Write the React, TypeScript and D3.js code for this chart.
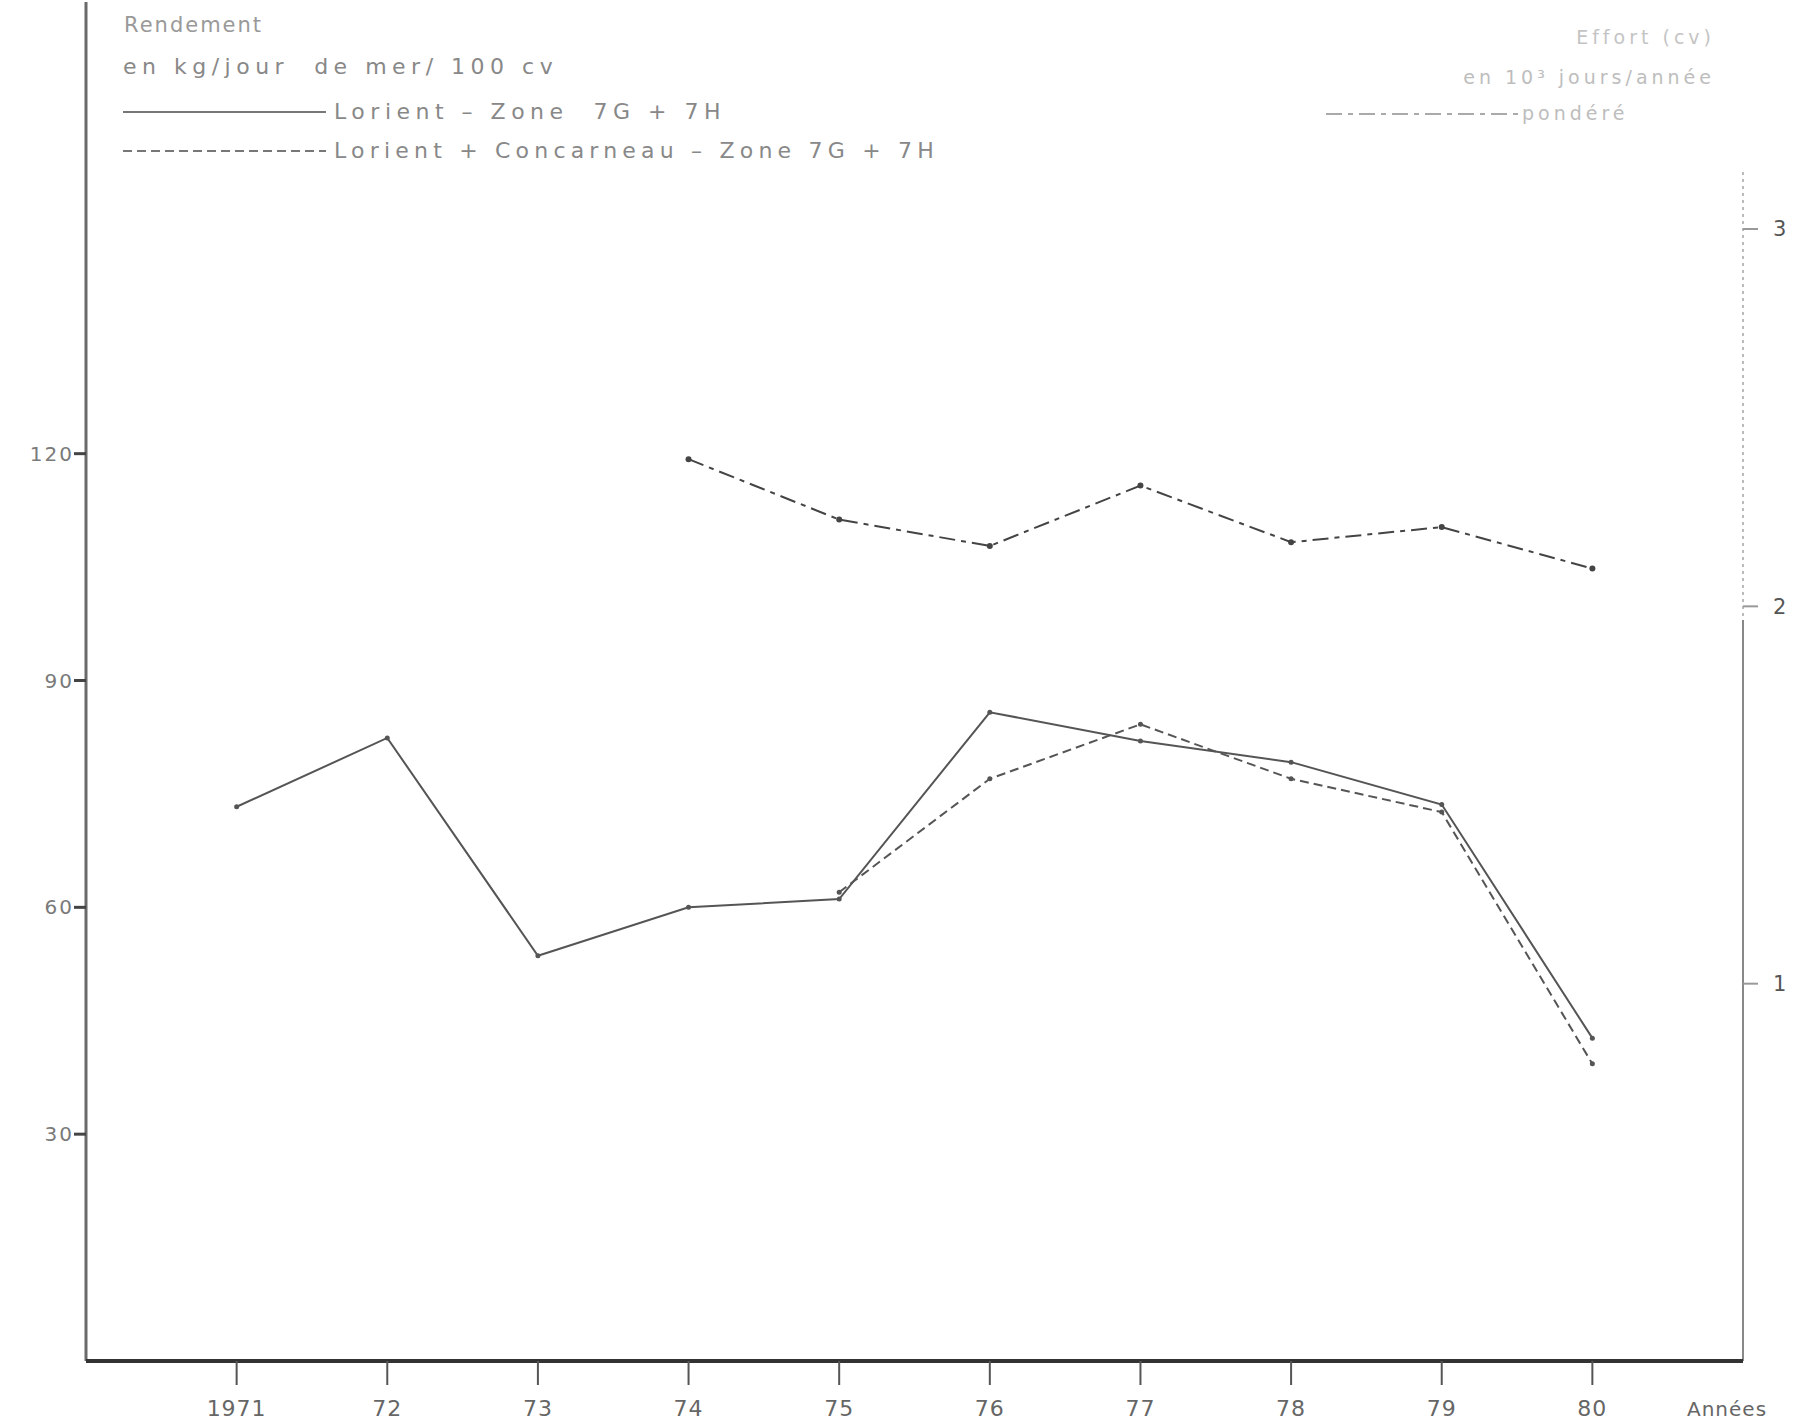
import React from "react";
import * as d3 from "d3";

const years = [1971, 1972, 1973, 1974, 1975, 1976, 1977, 1978, 1979, 1980];
const yearLabels = ["1971", "72", "73", "74", "75", "76", "77", "78", "79", "80"];
const lorientYears = [1971, 1972, 1973, 1974, 1975, 1976, 1977, 1978, 1979, 1980];
const lorientValues = [73.3, 82.4, 53.6, 60.0, 61.1, 85.8, 82.0, 79.2, 73.6, 42.7];
const lcYears = [1975, 1976, 1977, 1978, 1979, 1980];
const lcValues = [62.0, 77.0, 84.2, 77.0, 72.6, 39.3];
const effortYears = [1974, 1975, 1976, 1977, 1978, 1979, 1980];
const effortValues = [2.39, 2.23, 2.16, 2.32, 2.17, 2.21, 2.1];
const leftTicks = [30, 60, 90, 120];
const rightTicks = [1, 2, 3];

const W = 1793;
const H = 1426;

export default function App() {
  const x = d3.scaleLinear().domain([1970, 1981]).range([86, 1743]);
  const yL = d3.scaleLinear().domain([0, 180]).range([1361, 0]);
  const yR = d3.scaleLinear().domain([0, 3]).range([1361, 229]);

  const lineL = d3
    .line<[number, number]>()
    .x((d) => x(d[0]))
    .y((d) => yL(d[1]));
  const lineR = d3
    .line<[number, number]>()
    .x((d) => x(d[0]))
    .y((d) => yR(d[1]));

  const lorient = lorientYears.map((yr, i) => [yr, lorientValues[i]] as [number, number]);
  const lc = lcYears.map((yr, i) => [yr, lcValues[i]] as [number, number]);
  const effort = effortYears.map((yr, i) => [yr, effortValues[i]] as [number, number]);

  const font = "'DejaVu Sans', 'Liberation Sans', sans-serif";
  const x0 = x(1970);
  const x1 = x(1981);
  const y0 = yL(0);

  return (
    <div style={{ position: "absolute", left: 0, top: 0, width: W, height: H, background: "#fff", overflow: "hidden" }}>
      <svg width={W} height={H} style={{ display: "block" }} fontFamily={font}>
        <rect x={0} y={0} width={W} height={H} fill="#fff" />

        {/* left axis */}
        <line x1={x0} y1={2} x2={x0} y2={y0} stroke="#6a6a6a" strokeWidth={3} />
        {leftTicks.map((t) => (
          <g key={"l" + t}>
            <line x1={x0 - 12} y1={yL(t)} x2={x0} y2={yL(t)} stroke="#444" strokeWidth={3} />
            <text
              x={x0 - 12}
              y={yL(t)}
              dy="0.35em"
              textAnchor="end"
              fontSize={20}
              letterSpacing={2}
              fill="#7a7a7a"
            >
              {t}
            </text>
          </g>
        ))}

        {/* right axis */}
        <line x1={x1} y1={172} x2={x1} y2={620} stroke="#bbb" strokeWidth={2} strokeDasharray="3,4" />
        <line x1={x1} y1={620} x2={x1} y2={y0} stroke="#888" strokeWidth={2} />
        {rightTicks.map((t) => (
          <g key={"r" + t}>
            <line x1={x1} y1={yR(t)} x2={x1 + 15} y2={yR(t)} stroke="#999" strokeWidth={2} />
            <text x={x1 + 30} y={yR(t)} dy="0.35em" fontSize={21} fill="#555">
              {t}
            </text>
          </g>
        ))}

        {/* bottom axis */}
        <line x1={x0} y1={y0} x2={x1} y2={y0} stroke="#333" strokeWidth={4} />
        {years.map((yr, i) => (
          <g key={"b" + yr}>
            <line x1={x(yr)} y1={y0} x2={x(yr)} y2={y0 + 24} stroke="#555" strokeWidth={2} />
            <text
              x={x(yr)}
              y={1416}
              textAnchor="middle"
              fontSize={22}
              letterSpacing={1}
              fill="#666"
            >
              {yearLabels[i]}
            </text>
          </g>
        ))}
        <text x={1687} y={1416} fontSize={20} letterSpacing={1} fill="#666">
          Années
        </text>

        {/* series */}
        <path d={lineL(lorient) || ""} fill="none" stroke="#555" strokeWidth={2} />
        <path
          d={lineL(lc) || ""}
          fill="none"
          stroke="#555"
          strokeWidth={2}
          strokeDasharray="9,5"
        />
        <path
          d={lineR(effort) || ""}
          fill="none"
          stroke="#444"
          strokeWidth={2}
          strokeDasharray="16,6,5,6"
        />
        {lorient.map((d) => (
          <circle key={"p1" + d[0]} cx={x(d[0])} cy={yL(d[1])} r={2.5} fill="#555" />
        ))}
        {lc.map((d) => (
          <circle key={"p2" + d[0]} cx={x(d[0])} cy={yL(d[1])} r={2.5} fill="#555" />
        ))}
        {effort.map((d) => (
          <circle key={"p3" + d[0]} cx={x(d[0])} cy={yR(d[1])} r={3} fill="#444" />
        ))}

        {/* left legend */}
        <text x={124} y={32} fontSize={21} letterSpacing={2} fill="#999">
          Rendement
        </text>
        <text x={123} y={74} fontSize={22} letterSpacing={5.5} fill="#888" xmlSpace="preserve">
          en kg/jour  de mer/ 100 cv
        </text>
        <line x1={123} y1={112} x2={326} y2={112} stroke="#777" strokeWidth={2} />
        <text x={334} y={119} fontSize={22} letterSpacing={5.5} fill="#888" xmlSpace="preserve">
          Lorient – Zone  7G + 7H
        </text>
        <line x1={123} y1={151} x2={326} y2={151} stroke="#777" strokeWidth={2} strokeDasharray="9,5" />
        <text x={334} y={158} fontSize={22} letterSpacing={5.2} fill="#888" xmlSpace="preserve">
          Lorient + Concarneau – Zone 7G + 7H
        </text>

        {/* right legend */}
        <text x={1715} y={44} textAnchor="end" fontSize={19} letterSpacing={4} fill="#c4c4c4">
          Effort (cv)
        </text>
        <text x={1715} y={84} textAnchor="end" fontSize={19} letterSpacing={4} fill="#bdbdbd">
          en 10³ jours/année
        </text>
        <line
          x1={1326}
          y1={114}
          x2={1518}
          y2={114}
          stroke="#aaa"
          strokeWidth={2}
          strokeDasharray="16,6,5,6"
        />
        <text x={1522} y={120} fontSize={19} letterSpacing={4} fill="#bdbdbd">
          pondéré
        </text>
      </svg>
    </div>
  );
}
